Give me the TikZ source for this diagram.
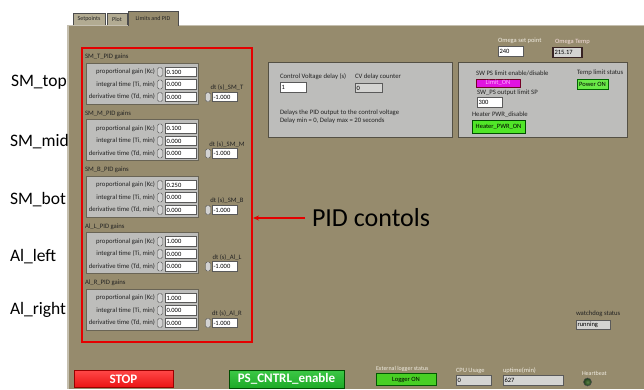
\documentclass[tikz,border=0pt]{standalone}
\usepackage{fontspec}
\setmainfont{Carlito}
\usetikzlibrary{arrows.meta}
\definecolor{panel}{RGB}{150,139,109}
\definecolor{tabin}{RGB}{178,171,146}
\definecolor{grpfill}{RGB}{189,189,187}
\definecolor{grpedge}{RGB}{105,100,85}
\definecolor{lvtxt}{RGB}{35,35,35}
\definecolor{lvlight}{RGB}{240,236,225}
\definecolor{boxedge}{RGB}{90,90,90}
\definecolor{indfill}{RGB}{212,212,210}
\definecolor{stopred}{RGB}{235,20,20}
\definecolor{psgreen}{RGB}{30,170,40}
\definecolor{ledgreen}{RGB}{80,230,40}
\definecolor{magbox}{RGB}{225,20,225}
\begin{document}
\begin{tikzpicture}[x=1pt,y=-1pt,
  every node/.style={inner sep=0pt,outer sep=0pt},
  lv/.style={font=\fontsize{6.7}{7.6}\selectfont, text=lvtxt},
  lvl/.style={font=\fontsize{6.5}{7.5}\selectfont, text=lvlight},
  big/.style={font=\fontsize{17.5}{20}\selectfont, text=black},
  numbox/.style={draw=boxedge, fill=white, line width=0.6, minimum height=9.5,
     text width=#1, align=left, inner xsep=1.5pt, font=\fontsize{6.5}{7}\selectfont, text=black},
  indbox/.style={numbox=#1, fill=indfill},
  spin/.style={draw=gray!70!black, fill=gray!35, line width=0.4, rounded corners=1.5pt,
     minimum width=5, minimum height=9},
  grp/.style={draw=grpedge, fill=grpfill, line width=1},
  gpanel/.style={draw=grpedge!80!black, fill=grpfill, line width=1},
  tabstyle/.style={draw=gray!60!black, line width=0.5, font=\fontsize{6}{6.5}\selectfont, text=lvtxt},
]
\useasboundingbox (0,0) rectangle (644,389);
\fill[white] (0,0) rectangle (644,389);

% tabs
\node[tabstyle, fill=tabin, anchor=north west, minimum width=32, minimum height=12] (tab1) at (73,13) {Setpoints};
\node[tabstyle, fill=tabin, anchor=north west, minimum width=20, minimum height=12] (tab2) at (107,13) {Plot};
% panel
\fill[panel] (67,25) rectangle (644,389);
\draw[panel!55!white, line width=1.5] (67.75,25) -- (67.75,389);
\draw[panel!55!white, line width=0.6] (67,25.3) -- (644,25.3);
\node[tabstyle, fill=panel, anchor=north west, minimum width=50, minimum height=14.5] (tab3) at (128,11) {Limits and PID};
\fill[panel] (128.5,24) rectangle (177.5,27);

% left labels
\node[big, anchor=west] (lsmtop) at (11,82) {SM\_top};
\node[big, anchor=west] (lsmmid) at (10,142) {SM\_mid};
\node[big, anchor=west] (lsmbot) at (10,200) {SM\_bot};
\node[big, anchor=west] (lalleft) at (10,257) {Al\_left};
\node[big, anchor=west] (lalright) at (10,310) {Al\_right};

% PID groups
\foreach \i/\g/\kc in {0/SM\_T/0.100, 1/SM\_M/0.100, 2/SM\_B/0.250, 3/Al\_L/1.000, 4/Al\_R/1.000}{
  \pgfmathsetmacro{\yy}{57+56.5*\i}
  \node[lv, anchor=west] (gt\i) at (85,\yy) {\g\_PID gains};
  \node[grp, anchor=north west, minimum width=112, minimum height=41] (gb\i) at (86,\yy+6) {};
  \node[lv, anchor=east] (kcl\i) at (155,\yy+15) {proportional gain (Kc)};
  \node[spin] (kcs\i) at (160,\yy+15) {};
  \node[numbox=28, anchor=west] (kcv\i) at (165,\yy+15) {\kc};
  \node[lv, anchor=east] (til\i) at (155,\yy+27.5) {integral time (Ti, min)};
  \node[spin] (tis\i) at (160,\yy+27.5) {};
  \node[numbox=28, anchor=west] (tiv\i) at (165,\yy+27.5) {0.000};
  \node[lv, anchor=east] (tdl\i) at (155,\yy+40) {derivative time (Td, min)};
  \node[spin] (tds\i) at (160,\yy+40) {};
  \node[numbox=28, anchor=west] (tdv\i) at (165,\yy+40) {0.000};
  \node[lv] (dtl\i) at (227,\yy+31) {dt (s)\_\g};
  \node[spin] (dts\i) at (208,\yy+40) {};
  \node[numbox=22, anchor=west] (dtv\i) at (212,\yy+40) {-1.000};
}

% red frame
\node[draw=red!90!black, line width=1.6, minimum width=170, minimum height=294, anchor=north west] (pidbox) at (82,48) {};

% PID contols label + arrow
\node[font=\fontsize{26}{30}\selectfont, anchor=west] (pidtxt) at (312,218) {PID contols};
\draw[red!90!black, line width=1.4, -{Stealth[length=6pt,width=5pt]}, shorten <=7pt, shorten >=1pt]
  (pidtxt.west) -- (pidtxt.west -| pidbox.east);

% control voltage panel
\node[gpanel, anchor=north west, minimum width=184, minimum height=75] (cvpanel) at (268,62) {};
\node[lv, anchor=west] (cvdl) at (280,77) {Control Voltage delay (s)};
\node[numbox=23, anchor=west] (cvd) at (280,87.5) {1};
\node[lv, anchor=west] (cvcl) at (355,77) {CV delay counter};
\node[indbox=24, anchor=west] (cvc) at (355,88) {0};
\node[lv, anchor=west, align=left] (cvnote) at (280,116.5) {Delays the PID output to the control voltage\\Delay min = 0, Delay max = 20 seconds};

% SW PS panel
\node[gpanel, anchor=north west, minimum width=169, minimum height=75] (swpanel) at (458,62) {};
\node[lv, anchor=west] (swl) at (476,73) {SW PS limit enable/disable};
\node[draw=purple!60!black, fill=magbox, line width=0.6, minimum width=44, minimum height=8,
   font=\fontsize{6.5}{7}\selectfont, text={rgb,255:red,255;green,175;blue,255}, anchor=west] (limit) at (476,83) {Limit\_ON};
\node[lv, anchor=west] (spl) at (477,92.5) {SW\_PS output limit SP};
\node[numbox=22, anchor=west] (sp) at (477,102.5) {300};
\node[lv, anchor=west] (hpl) at (472,115) {Heater PWR\_disable};
\node[draw=green!30!black, fill=ledgreen, line width=0.8, minimum width=53, minimum height=13,
   font=\fontsize{6.5}{7}\selectfont, text=black, anchor=west] (heater) at (472,126.5) {Heater\_PWR\_ON};
\node[lv, anchor=west] (tlsl) at (577,72.5) {Temp limit status};
\node[draw=green!40!black, fill=ledgreen!85!white, line width=0.6, minimum width=31, minimum height=10,
   font=\fontsize{6.5}{7}\selectfont, text=black, anchor=west] (tls) at (577,84.5) {Power ON};

% omega
\node[lvl, anchor=west] (ospl) at (498,41) {Omega set point};
\node[numbox=22, anchor=west] (osp) at (498,51.5) {240};
\node[lvl, anchor=west, text={rgb,255:red,245;green,220;blue,220}] (otl) at (555,42) {Omega Temp};
\node[draw={rgb,255:red,55;green,35;blue,35}, fill=indfill, line width=1.6, minimum height=10,
   text width=26, align=left, inner xsep=1.5pt, font=\fontsize{6.5}{7}\selectfont, anchor=west] (ot) at (553,52.5) {215.17};

% watchdog
\node[lv, anchor=west] (wdl) at (576,313.5) {watchdog status};
\node[indbox=31, anchor=west] (wd) at (576,325) {running};

% bottom bar
\node[draw=red!60!black, top color={rgb,255:red,255;green,70;blue,70}, bottom color=stopred,
   minimum width=99, minimum height=17, anchor=north west, text=white,
   font=\fontsize{13}{15}\bfseries] (stop) at (74,370.5) {STOP};
\node[draw=green!30!black, top color={rgb,255:red,60;green,200;blue,70}, bottom color=psgreen,
   minimum width=115, minimum height=18, anchor=north west, text=white,
   font=\fontsize{13}{15}\bfseries] (ps) at (229,370) {PS\_CNTRL\_enable};
\node[lvl, anchor=west, font=\fontsize{6}{6.5}\selectfont] (extl) at (376,368.5) {External logger status};
\node[draw=green!35!black, fill=ledgreen!90!black, line width=0.6, minimum width=60, minimum height=12,
   font=\fontsize{6.5}{7}\selectfont, text=black, anchor=north west] (logger) at (376,373.5) {Logger ON};
\node[lvl, anchor=west] (cpul) at (456,370.5) {CPU Usage};
\node[indbox=32, anchor=west] (cpu) at (456,380.5) {0};
\node[lvl, anchor=west] (upl) at (503,370.5) {uptime(min)};
\node[indbox=57, anchor=west] (up) at (503,380.5) {627};
\node[lvl, anchor=west, font=\fontsize{6}{6.5}\selectfont] (hbl) at (582,373) {Heartbeat};
\node[circle, draw=black!70, inner color={rgb,255:red,90;green,130;blue,70}, outer color={rgb,255:red,30;green,60;blue,25},
   minimum size=8, line width=0.5] (hb) at (587.5,382) {};
\end{tikzpicture}
\end{document}
